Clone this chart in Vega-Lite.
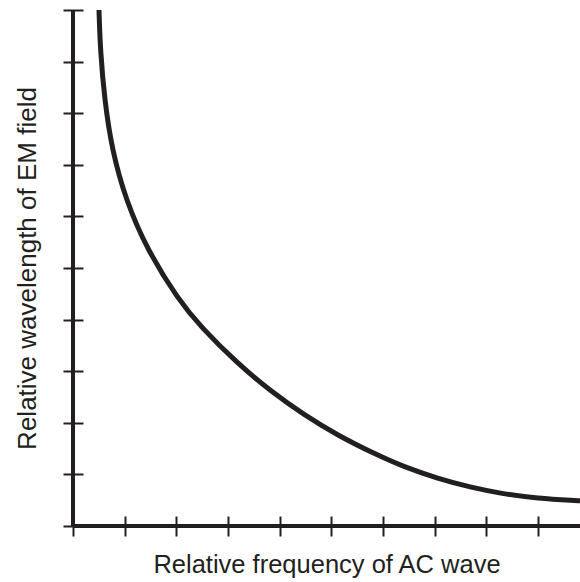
{
  "$schema": "https://vega.github.io/schema/vega-lite/v6.json",
  "width": 507,
  "height": 516,
  "autosize": {"type": "none"},
  "padding": {"left": 73, "top": 10, "right": 0, "bottom": 56},
  "background": "white",
  "config": {
    "view": {"stroke": null},
    "font": "Liberation Sans"
  },
  "data": {
    "values": [
      {"f": 0.503, "w": 10.0},
      {"f": 0.528, "w": 9.225},
      {"f": 0.611, "w": 8.256},
      {"f": 0.754, "w": 7.287},
      {"f": 1.021, "w": 6.318},
      {"f": 1.437, "w": 5.349},
      {"f": 2.043, "w": 4.38},
      {"f": 2.47, "w": 3.862},
      {"f": 3.178, "w": 3.153},
      {"f": 3.836, "w": 2.603},
      {"f": 4.474, "w": 2.151},
      {"f": 5.106, "w": 1.764},
      {"f": 5.88, "w": 1.376},
      {"f": 6.395, "w": 1.149},
      {"f": 7.041, "w": 0.924},
      {"f": 7.685, "w": 0.75},
      {"f": 8.329, "w": 0.62},
      {"f": 8.975, "w": 0.537},
      {"f": 9.749, "w": 0.49},
      {"f": 9.81, "w": 0.488}
    ]
  },
  "layer": [
    {
      "mark": {"type": "rule", "color": "#231f20", "strokeWidth": 2.5},
      "encoding": {"x": {"datum": 0, "type": "quantitative"}}
    },
    {
      "mark": {"type": "rule", "color": "#231f20", "strokeWidth": 2.5},
      "encoding": {"y": {"datum": 0, "type": "quantitative"}}
    },
    {
      "mark": {"type": "line", "color": "#231f20", "strokeWidth": 5, "interpolate": "basis", "clip": true},
      "encoding": {
        "x": {
          "field": "f",
          "type": "quantitative",
          "scale": {"domain": [0, 9.81], "nice": false, "zero": false},
          "axis": {
            "title": "Relative frequency of AC wave",
            "titleFont": "Liberation Sans",
            "titleFontSize": 25.5,
            "titleFontWeight": "normal",
            "titleColor": "#231f20",
            "titlePadding": 15,
            "values": [0, 1, 2, 3, 4, 5, 6, 7, 8, 9],
            "labels": false,
            "domain": false,
            "grid": false,
            "offset": -10,
            "tickSize": 20,
            "tickWidth": 2,
            "tickColor": "#231f20"
          }
        },
        "y": {
          "field": "w",
          "type": "quantitative",
          "scale": {"domain": [0, 10], "nice": false, "zero": false},
          "axis": {
            "title": "Relative wavelength of EM field",
            "titleFont": "Liberation Sans",
            "titleFontSize": 26,
            "titleFontWeight": "normal",
            "titleColor": "#231f20",
            "titlePadding": 22,
            "values": [0, 1, 2, 3, 4, 5, 6, 7, 8, 9, 10],
            "labels": false,
            "domain": false,
            "grid": false,
            "offset": -10,
            "tickSize": 20,
            "tickWidth": 2,
            "tickColor": "#231f20"
          }
        }
      }
    }
  ]
}
